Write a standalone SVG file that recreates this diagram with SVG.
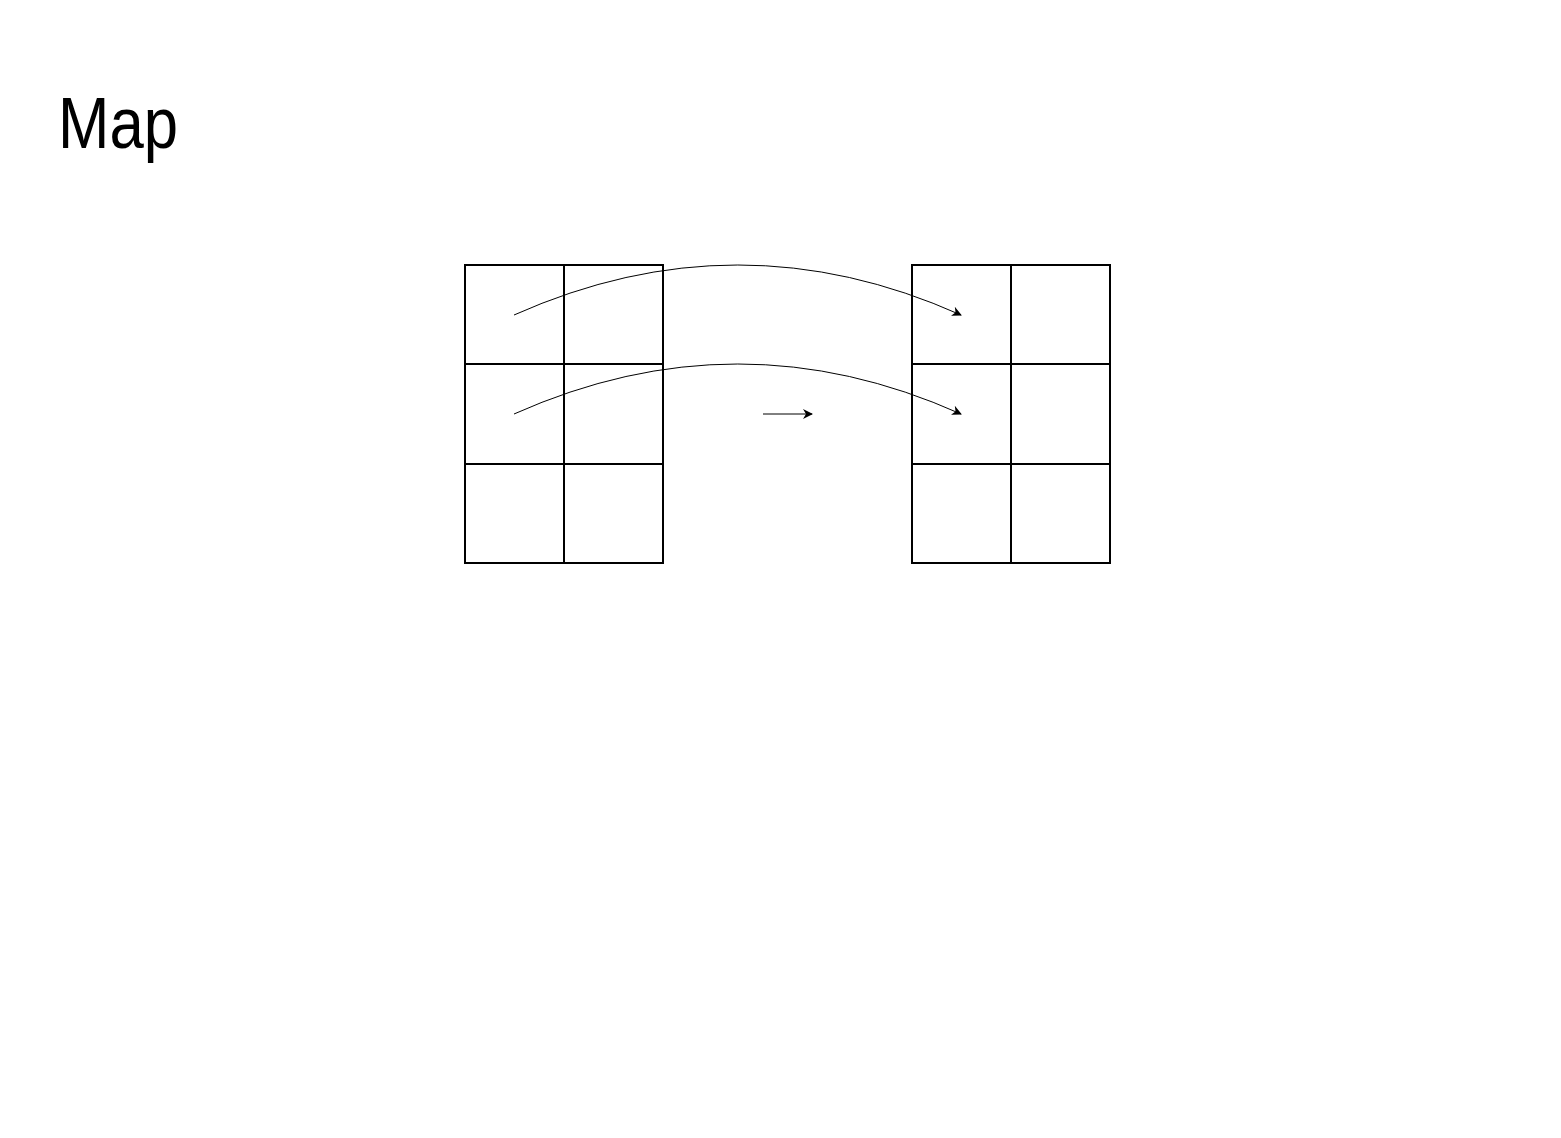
<svg xmlns="http://www.w3.org/2000/svg" width="1561" height="1138" viewBox="0 0 1561 1138">
<style>
.cell{fill:#fff;stroke:#000;stroke-width:2}
.conn{fill:none;stroke:#000;stroke-width:1}
.title{font-family:"Liberation Sans Narrow","Liberation Sans",Arial,sans-serif;font-size:73px;fill:#000}
</style>
<defs>
<marker id="arr" viewBox="0 0 10 10" refX="9" refY="5" markerWidth="10" markerHeight="10" markerUnits="userSpaceOnUse" orient="auto">
<path d="M0,0 L10,5 L0,10 L3,5 Z" fill="#000"/>
</marker>
</defs>
<rect width="1561" height="1138" fill="#fff"/>
<text class="title" x="58" y="148" textLength="120" lengthAdjust="spacingAndGlyphs">Map</text>
<g id="left-grid">
<rect class="cell" x="465" y="265" width="99" height="99"/>
<rect class="cell" x="564" y="265" width="99" height="99"/>
<rect class="cell" x="465" y="364" width="99" height="100"/>
<rect class="cell" x="564" y="364" width="99" height="100"/>
<rect class="cell" x="465" y="464" width="99" height="99"/>
<rect class="cell" x="564" y="464" width="99" height="99"/>
</g>
<g id="right-grid">
<rect class="cell" x="912" y="265" width="99" height="99"/>
<rect class="cell" x="1011" y="265" width="99" height="99"/>
<rect class="cell" x="912" y="364" width="99" height="100"/>
<rect class="cell" x="1011" y="364" width="99" height="100"/>
<rect class="cell" x="912" y="464" width="99" height="99"/>
<rect class="cell" x="1011" y="464" width="99" height="99"/>
</g>
<g id="connectors">
<path class="conn" d="M514,315 Q738,215 961,315" marker-end="url(#arr)"/>
<path class="conn" d="M514,414 Q738,314 961,414" marker-end="url(#arr)"/>
<path class="conn" d="M763,414 L812,414" marker-end="url(#arr)"/>
</g>
</svg>
